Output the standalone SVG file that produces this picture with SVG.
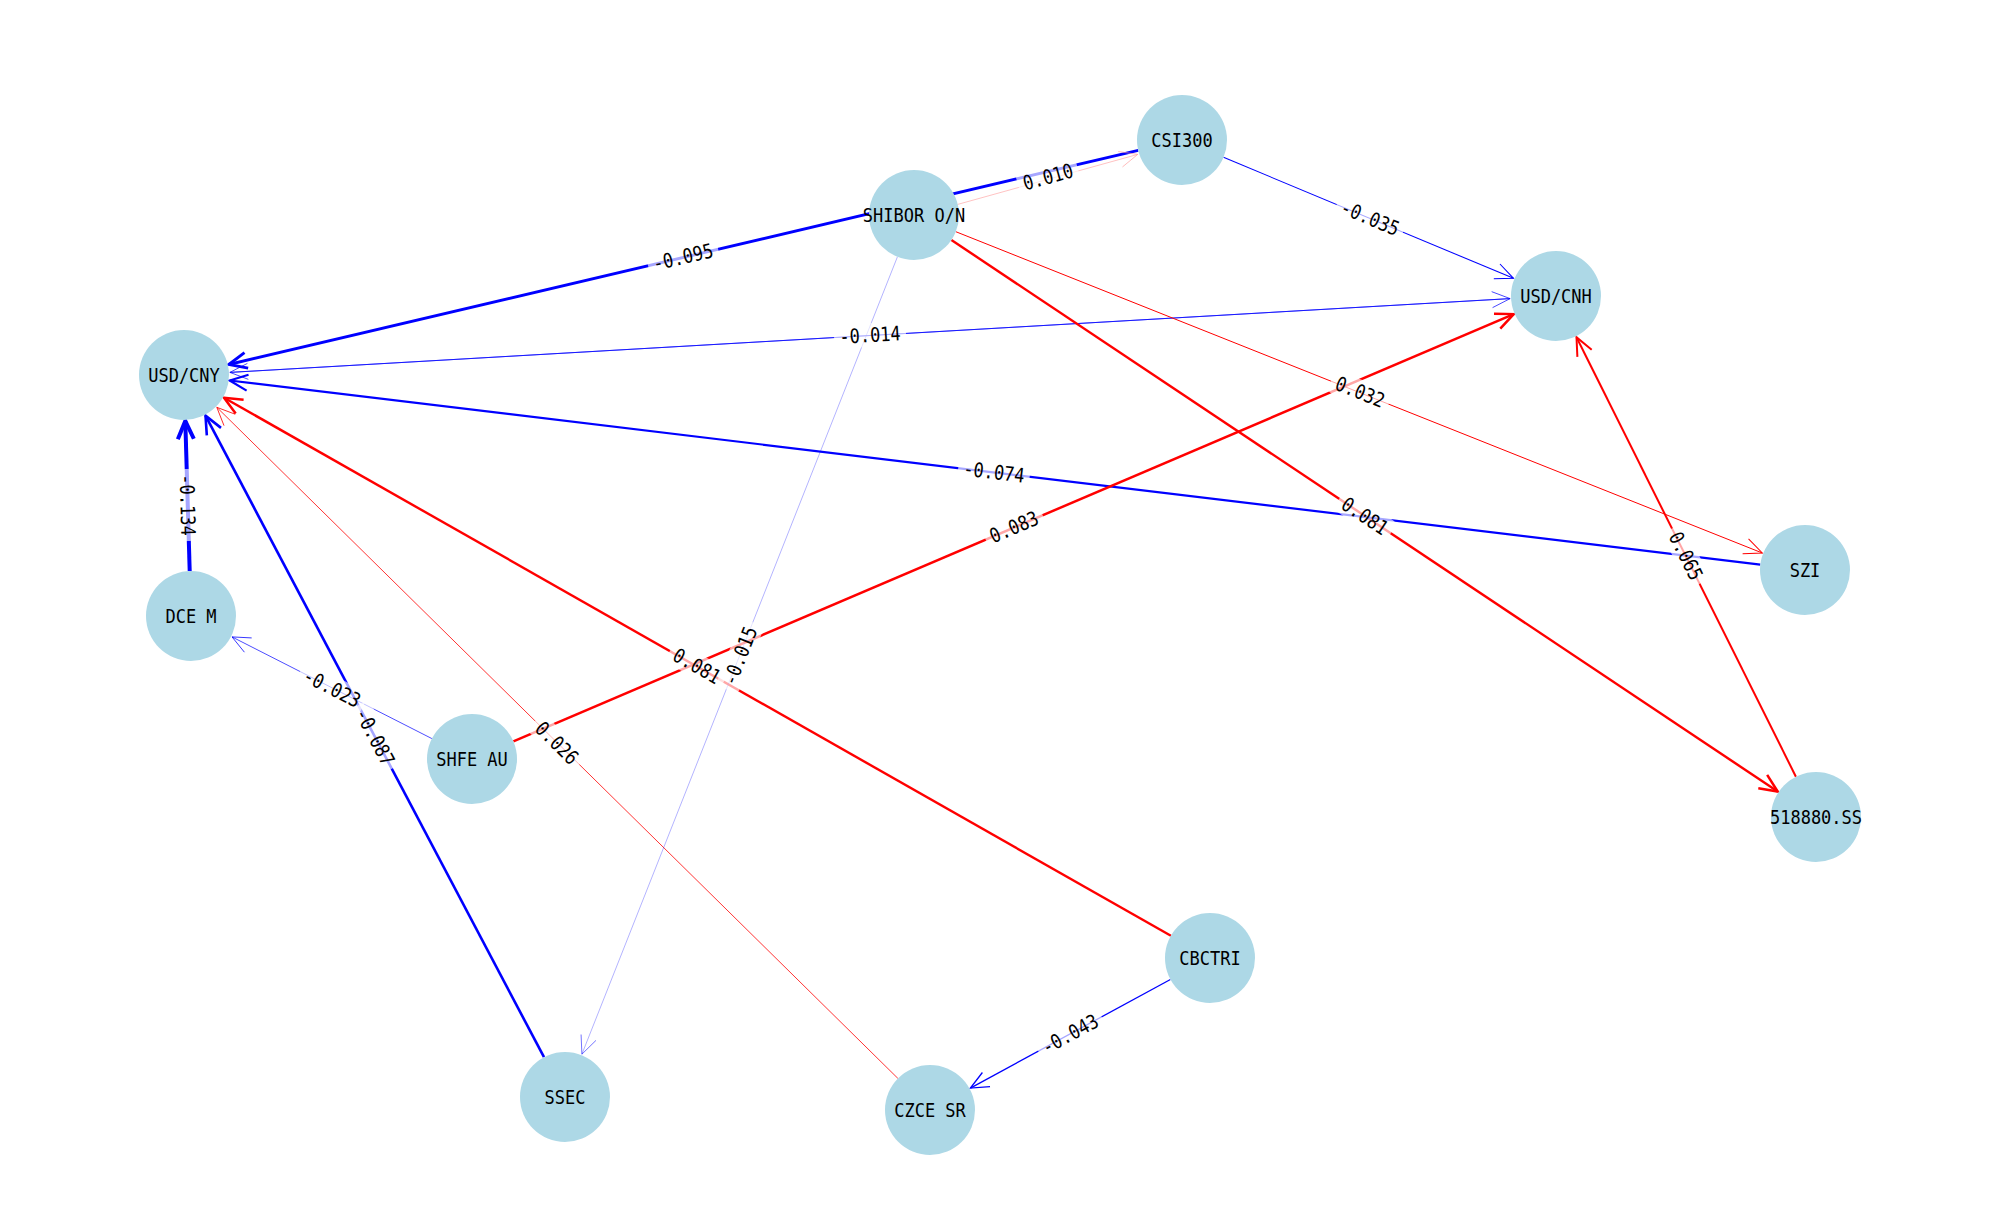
<svg xmlns="http://www.w3.org/2000/svg" width="2000" height="1227" viewBox="0 0 2000 1227">
<style>
.e{fill:none;stroke-linecap:butt}
.b{stroke:#0000ff}
.r{stroke:#ff0000}
.node circle{fill:#add8e6}
.node text,.lbl text{font-family:"DejaVu Sans Mono","Liberation Mono",monospace;font-size:20px;fill:#000;text-anchor:middle;dominant-baseline:central}
.lbl rect{fill:#ffffff;fill-opacity:0.65}
.mk{fill:none;stroke-linejoin:miter}
</style>
<defs>
<marker id="mb40" markerUnits="userSpaceOnUse" viewBox="-24 -12 28 24" markerWidth="28" markerHeight="24" refX="0" refY="0" orient="auto" overflow="visible"><path class="mk" d="M-18,-8 L0,0 L-18,8" stroke="#0000ff" stroke-width="4"/></marker>
<marker id="mb29" markerUnits="userSpaceOnUse" viewBox="-24 -12 28 24" markerWidth="28" markerHeight="24" refX="0" refY="0" orient="auto" overflow="visible"><path class="mk" d="M-18,-8 L0,0 L-18,8" stroke="#0000ff" stroke-width="2.9"/></marker>
<marker id="mb26" markerUnits="userSpaceOnUse" viewBox="-24 -12 28 24" markerWidth="28" markerHeight="24" refX="0" refY="0" orient="auto" overflow="visible"><path class="mk" d="M-18,-8 L0,0 L-18,8" stroke="#0000ff" stroke-width="2.6"/></marker>
<marker id="mb22" markerUnits="userSpaceOnUse" viewBox="-24 -12 28 24" markerWidth="28" markerHeight="24" refX="0" refY="0" orient="auto" overflow="visible"><path class="mk" d="M-18,-8 L0,0 L-18,8" stroke="#0000ff" stroke-width="2.2"/></marker>
<marker id="mb13" markerUnits="userSpaceOnUse" viewBox="-24 -12 28 24" markerWidth="28" markerHeight="24" refX="0" refY="0" orient="auto" overflow="visible"><path class="mk" d="M-18,-8 L0,0 L-18,8" stroke="#0000ff" stroke-width="1.3"/></marker>
<marker id="mb10" markerUnits="userSpaceOnUse" viewBox="-24 -12 28 24" markerWidth="28" markerHeight="24" refX="0" refY="0" orient="auto" overflow="visible"><path class="mk" d="M-18,-8 L0,0 L-18,8" stroke="#0000ff" stroke-width="1.05"/></marker>
<marker id="mb07" markerUnits="userSpaceOnUse" viewBox="-24 -12 28 24" markerWidth="28" markerHeight="24" refX="0" refY="0" orient="auto" overflow="visible"><path class="mk" d="M-18,-8 L0,0 L-18,8" stroke="#0000ff" stroke-width="0.7"/></marker>
<marker id="mb05" markerUnits="userSpaceOnUse" viewBox="-24 -12 28 24" markerWidth="28" markerHeight="24" refX="0" refY="0" orient="auto" overflow="visible"><path class="mk" d="M-18,-8 L0,0 L-18,8" stroke="#0000ff" stroke-width="0.5"/></marker>
<marker id="mr25" markerUnits="userSpaceOnUse" viewBox="-24 -12 28 24" markerWidth="28" markerHeight="24" refX="0" refY="0" orient="auto" overflow="visible"><path class="mk" d="M-18,-8 L0,0 L-18,8" stroke="#ff0000" stroke-width="2.5"/></marker>
<marker id="mr20" markerUnits="userSpaceOnUse" viewBox="-24 -12 28 24" markerWidth="28" markerHeight="24" refX="0" refY="0" orient="auto" overflow="visible"><path class="mk" d="M-18,-8 L0,0 L-18,8" stroke="#ff0000" stroke-width="2"/></marker>
<marker id="mr10" markerUnits="userSpaceOnUse" viewBox="-24 -12 28 24" markerWidth="28" markerHeight="24" refX="0" refY="0" orient="auto" overflow="visible"><path class="mk" d="M-18,-8 L0,0 L-18,8" stroke="#ff0000" stroke-width="1"/></marker>
<marker id="mr08" markerUnits="userSpaceOnUse" viewBox="-24 -12 28 24" markerWidth="28" markerHeight="24" refX="0" refY="0" orient="auto" overflow="visible"><path class="mk" d="M-18,-8 L0,0 L-18,8" stroke="#ff0000" stroke-width="0.8"/></marker>
<marker id="mr03" markerUnits="userSpaceOnUse" viewBox="-24 -12 28 24" markerWidth="28" markerHeight="24" refX="0" refY="0" orient="auto" overflow="visible"><path class="mk" d="M-18,-8 L0,0 L-18,8" stroke="#ff9999" stroke-width="0.6"/></marker>
</defs>
<rect width="2000" height="1227" fill="#ffffff"/>
<g id="connectors">
<line id="e-csi300-usdcny" class="e b" x1="1138.2" y1="150.3" x2="228.8" y2="364.5" stroke-width="2.9" marker-end="url(#mb29)"/>
<line id="e-shibor-csi300" class="e" stroke="#ff9999" x1="957.3" y1="204.5" x2="1137.7" y2="154.4" stroke-width="0.6" marker-end="url(#mr03)"/>
<line id="e-csi300-usdcnh" class="e b" x1="1223.5" y1="157.3" x2="1513.5" y2="278.3" stroke-width="1.05" marker-end="url(#mb10)"/>
<line id="e-usdcnh-usdcny" class="e b" x1="1510.1" y1="298.6" x2="229.9" y2="372.4" stroke-width="0.7" marker-end="url(#mb07)"/>
<line id="e-usdcny-usdcnh" class="e b" x1="229.9" y1="372.4" x2="1510.1" y2="298.6" stroke-width="0.7" marker-end="url(#mb07)"/>
<line id="e-shibor-szi" class="e r" x1="955.8" y1="231.7" x2="1762.3" y2="553" stroke-width="1" marker-end="url(#mr10)"/>
<line id="e-shibor-518880" class="e r" x1="951.4" y1="240" x2="1777.7" y2="791.5" stroke-width="2.4" marker-end="url(#mr25)"/>
<line id="e-szi-usdcny" class="e b" x1="1760.3" y1="564.6" x2="229.7" y2="380.5" stroke-width="2.2" marker-end="url(#mb22)"/>
<line id="e-shfeau-usdcnh" class="e r" x1="513.4" y1="741.3" x2="1513.7" y2="314.1" stroke-width="2.5" marker-end="url(#mr25)"/>
<line id="e-518880-usdcnh" class="e r" x1="1795.9" y1="776.7" x2="1576.5" y2="337.2" stroke-width="2" marker-end="url(#mr20)"/>
<line id="e-dcem-usdcny" class="e b" x1="189.7" y1="571" x2="185.3" y2="421" stroke-width="4" marker-end="url(#mb40)"/>
<line id="e-ssec-usdcny" class="e b" x1="544" y1="1057.2" x2="205.5" y2="415.7" stroke-width="2.6" marker-end="url(#mb26)"/>
<line id="e-shfeau-dcem" class="e b" x1="431.9" y1="738.6" x2="232" y2="636.9" stroke-width="0.7" marker-end="url(#mb07)"/>
<line id="e-czcesr-usdcny" class="e r" x1="897.9" y1="1078.4" x2="216.8" y2="407.3" stroke-width="0.8" marker-end="url(#mr08)"/>
<line id="e-cbctri-usdcny" class="e r" x1="1170.9" y1="935.8" x2="224" y2="397.7" stroke-width="2.4" marker-end="url(#mr25)"/>
<line id="e-shibor-ssec" class="e b" x1="897.4" y1="256.9" x2="581.9" y2="1054.2" stroke-width="0.5" stroke-opacity="0.6" marker-end="url(#mb05)"/>
<line id="e-cbctri-czcesr" class="e b" x1="1170.4" y1="979.5" x2="970.4" y2="1088.1" stroke-width="1.3" marker-end="url(#mb13)"/>
</g>
<g id="nodes">
<g id="n-usdcny" class="node"><circle cx="184" cy="375" r="45"/><text transform="translate(184,375) scale(0.85,1)">USD/CNY</text></g>
<g id="n-shibor" class="node"><circle cx="914" cy="215" r="45"/><text transform="translate(914,215) scale(0.85,1)">SHIBOR O/N</text></g>
<g id="n-dcem" class="node"><circle cx="191" cy="616" r="45"/><text transform="translate(191,616) scale(0.85,1)">DCE M</text></g>
<g id="n-csi300" class="node"><circle cx="1182" cy="140" r="45"/><text transform="translate(1182,140) scale(0.85,1)">CSI300</text></g>
<g id="n-usdcnh" class="node"><circle cx="1556" cy="296" r="45"/><text transform="translate(1556,296) scale(0.85,1)">USD/CNH</text></g>
<g id="n-szi" class="node"><circle cx="1805" cy="570" r="45"/><text transform="translate(1805,570) scale(0.85,1)">SZI</text></g>
<g id="n-shfeau" class="node"><circle cx="472" cy="759" r="45"/><text transform="translate(472,759) scale(0.85,1)">SHFE AU</text></g>
<g id="n-ssec" class="node"><circle cx="565" cy="1097" r="45"/><text transform="translate(565,1097) scale(0.85,1)">SSEC</text></g>
<g id="n-czcesr" class="node"><circle cx="930" cy="1110" r="45"/><text transform="translate(930,1110) scale(0.85,1)">CZCE SR</text></g>
<g id="n-cbctri" class="node"><circle cx="1210" cy="958" r="45"/><text transform="translate(1210,958) scale(0.85,1)">CBCTRI</text></g>
<g id="n-518880" class="node"><circle cx="1816" cy="817" r="45"/><text transform="translate(1816,817) scale(0.85,1)">518880.SS</text></g>
</g>
<g id="edge-labels">
<g class="lbl" transform="translate(683,257) rotate(-13.25)"><rect x="-36" y="-12" width="72" height="24" rx="5"/><text transform="scale(0.85,1)">-0.095</text></g>
<g class="lbl" transform="translate(1048,177) rotate(-15.6)"><rect x="-31" y="-12" width="62" height="24" rx="5"/><text transform="scale(0.85,1)">0.010</text></g>
<g class="lbl" transform="translate(1370,218) rotate(22.6)"><rect x="-36" y="-12" width="72" height="24" rx="5"/><text transform="scale(0.85,1)">-0.035</text></g>
<g class="lbl" transform="translate(870,335) rotate(-3.3)"><rect x="-36" y="-12" width="72" height="24" rx="5"/><text transform="scale(0.85,1)">-0.014</text></g>
<g class="lbl" transform="translate(1360,392) rotate(21.7)"><rect x="-31" y="-12" width="62" height="24" rx="5"/><text transform="scale(0.85,1)">0.032</text></g>
<g class="lbl" transform="translate(1365,516) rotate(33.7)"><rect x="-31" y="-12" width="62" height="24" rx="5"/><text transform="scale(0.85,1)">0.081</text></g>
<g class="lbl" transform="translate(994,472) rotate(6.86)"><rect x="-36" y="-12" width="72" height="24" rx="5"/><text transform="scale(0.85,1)">-0.074</text></g>
<g class="lbl" transform="translate(1014,527) rotate(-23.1)"><rect x="-31" y="-12" width="62" height="24" rx="5"/><text transform="scale(0.85,1)">0.083</text></g>
<g class="lbl" transform="translate(1686,556) rotate(63.5)"><rect x="-31" y="-12" width="62" height="24" rx="5"/><text transform="scale(0.85,1)">0.065</text></g>
<g class="lbl" transform="translate(187.5,505) rotate(88.3)"><rect x="-36" y="-12" width="72" height="24" rx="5"/><text transform="scale(0.85,1)">-0.134</text></g>
<g class="lbl" transform="translate(375,737) rotate(62.2)"><rect x="-36" y="-12" width="72" height="24" rx="5"/><text transform="scale(0.85,1)">-0.087</text></g>
<g class="lbl" transform="translate(332,688) rotate(27)"><rect x="-36" y="-12" width="72" height="24" rx="5"/><text transform="scale(0.85,1)">-0.023</text></g>
<g class="lbl" transform="translate(557,743) rotate(44.6)"><rect x="-31" y="-12" width="62" height="24" rx="5"/><text transform="scale(0.85,1)">0.026</text></g>
<g class="lbl" transform="translate(697,666) rotate(29.6)"><rect x="-31" y="-12" width="62" height="24" rx="5"/><text transform="scale(0.85,1)">0.081</text></g>
<g class="lbl" transform="translate(740,656) rotate(-68.4)"><rect x="-36" y="-12" width="72" height="24" rx="5"/><text transform="scale(0.85,1)">-0.015</text></g>
<g class="lbl" transform="translate(1070,1034) rotate(-28.5)"><rect x="-36" y="-12" width="72" height="24" rx="5"/><text transform="scale(0.85,1)">-0.043</text></g>
</g>
</svg>
